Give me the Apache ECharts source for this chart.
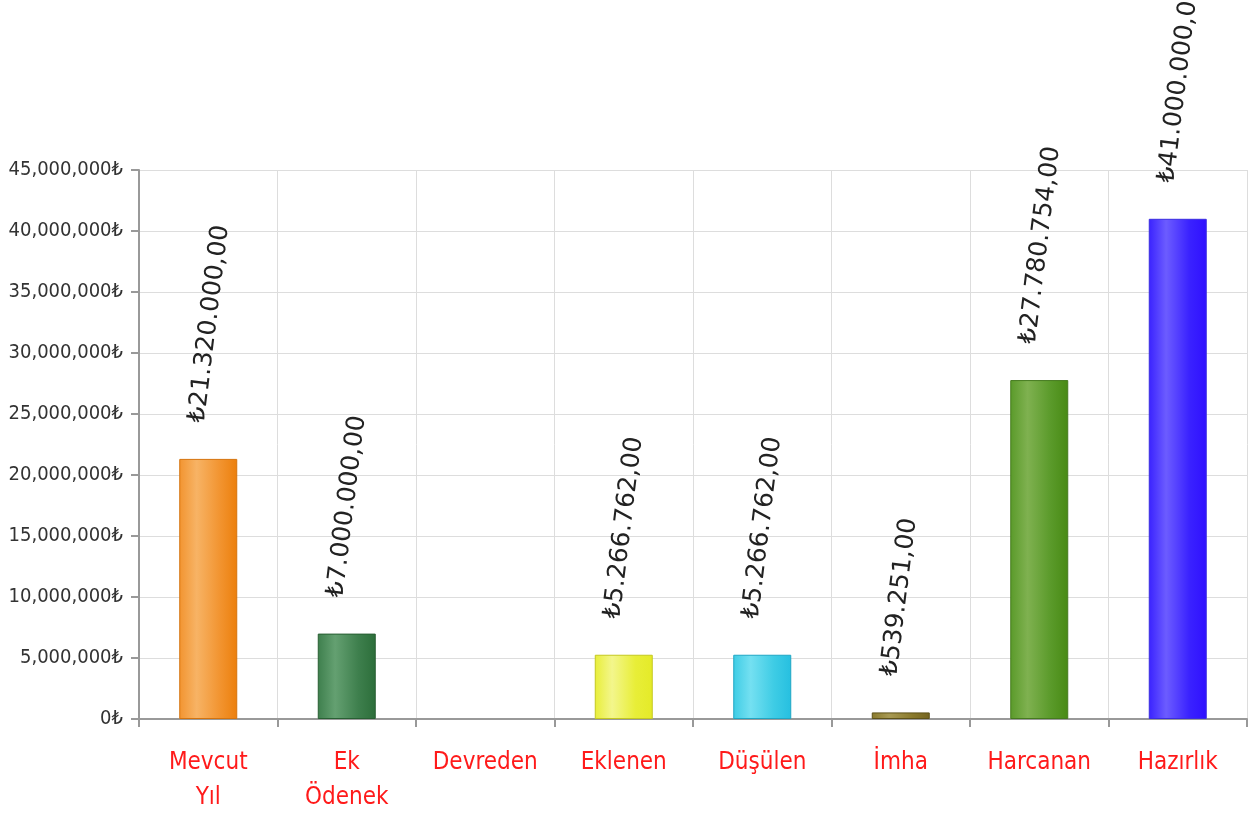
<!DOCTYPE html>
<html>
<head>
<meta charset="utf-8">
<script src="https://cdn.jsdelivr.net/npm/echarts@6/dist/echarts.min.js"></script>
<style>
html,body{margin:0;padding:0;background:#fff;}
#chart{width:1254px;height:821px;}
</style>
</head>
<body>
<div id="chart"></div>
<script>
// ---- data ----
const categories = ['Mevcut\nYıl', 'Ek\nÖdenek', 'Devreden', 'Eklenen', 'Düşülen', 'İmha', 'Harcanan', 'Hazırlık'];
const values = [21320000, 7000000, 0, 5266762, 5266762, 539251, 27780754, 41000000];
const yTicks = { min: 0, max: 45000000, interval: 5000000 };

// ---- styles (per bar: left, highlight, right, border) ----
const palette = [
  ['#f29430', '#f7b365', '#ec7f0c', '#d5730c'],
  ['#3e7f4d', '#64a071', '#2c6e3a', '#285f33'],
  ['#999999', '#bbbbbb', '#888888', '#777777'],
  ['#e8ee38', '#f3f68c', '#e4ea28', '#c4c820'],
  ['#3ecce5', '#74e0f1', '#26bfe0', '#1fa6c4'],
  ['#8a7a2c', '#a89a54', '#746420', '#5e5218'],
  ['#5a9a2a', '#7fb150', '#488a14', '#457a1e'],
  ['#3a22ff', '#6c5cff', '#2f10ff', '#3a2ce0']
];

function grad(c) {
  return {
    type: 'linear', x: 0, y: 0, x2: 1, y2: 0,
    colorStops: [
      { offset: 0, color: c[0] },
      { offset: 0.3, color: c[1] },
      { offset: 0.7, color: c[0] },
      { offset: 1, color: c[2] }
    ]
  };
}

function fmtTR(v) {
  const parts = v.toFixed(2).split('.');
  const intPart = parts[0].replace(/\B(?=(\d{3})+(?!\d))/g, '.');
  return '₺' + intPart + ',' + parts[1];
}
function fmtAxis(v) {
  return String(v).replace(/\B(?=(\d{3})+(?!\d))/g, ',') + '₺';
}

const chart = echarts.init(document.getElementById('chart'), null, { renderer: 'canvas' });
const axisFont = '"DejaVu Sans Condensed", "Liberation Sans Narrow", sans-serif';

chart.setOption({
  backgroundColor: '#ffffff',
  animation: false,
  grid: { left: 139, right: 7, top: 170, bottom: 102, containLabel: false, outerBoundsMode: 'none' },
  xAxis: {
    type: 'category',
    data: categories,
    boundaryGap: true,
    axisLine: { show: true, lineStyle: { color: '#999999', width: 2 } },
    axisTick: { show: true, length: 8, alignWithLabel: false, lineStyle: { color: '#999999', width: 2 } },
    splitLine: { show: true, lineStyle: { color: '#dddddd', width: 1 } },
    axisLabel: {
      color: '#ff1a1a', fontSize: 24, fontFamily: axisFont,
      lineHeight: 35, margin: 26, interval: 0
    }
  },
  yAxis: {
    type: 'value',
    min: yTicks.min, max: yTicks.max, interval: yTicks.interval,
    axisLine: { show: true, lineStyle: { color: '#999999', width: 2 } },
    axisTick: { show: true, length: 8, lineStyle: { color: '#999999', width: 2 } },
    splitLine: { show: true, lineStyle: { color: '#dddddd', width: 1 } },
    axisLabel: {
      color: '#333333', fontSize: 20, fontFamily: axisFont, margin: 16,
      formatter: fmtAxis
    }
  },
  series: [{
    type: 'bar',
    barWidth: 58,
    data: values.map((v, i) => ({
      value: v,
      itemStyle: { color: grad(palette[i]), borderColor: palette[i][3], borderWidth: v === 0 ? 0 : 1, opacity: v === 0 ? 0 : 1 }
    })),
    label: {
      show: true,
      position: 'top',
      distance: 35,
      rotate: 83,
      align: 'left',
      verticalAlign: 'middle',
      offset: [0, -11],
      color: '#222222',
      fontSize: 25,
      fontFamily: '"DejaVu Sans", sans-serif',
      formatter: p => (p.value === 0 ? '' : fmtTR(p.value))
    }
  }]
});
</script>
</body>
</html>
